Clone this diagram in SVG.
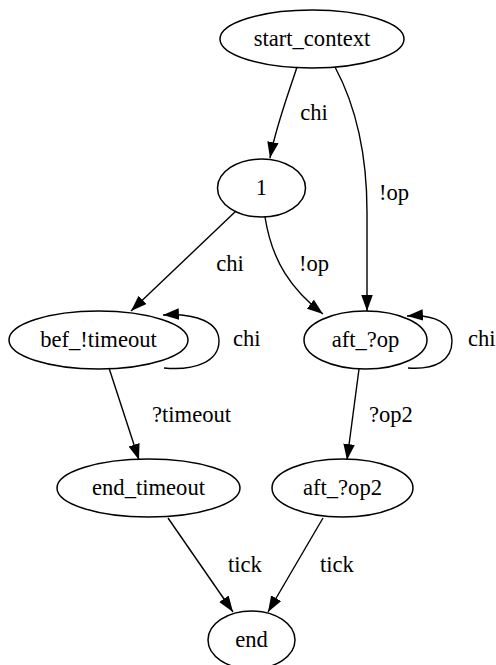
<svg xmlns="http://www.w3.org/2000/svg" width="496" height="665" viewBox="0 0 496 665" font-family="'Liberation Serif', 'Times New Roman', Times, serif">
<style>
text{font-family:'Liberation Serif','Times New Roman',Times,serif;font-size:22.6px;fill:#000}
.n ellipse{fill:none;stroke:#000;stroke-width:1.5}
.n text{text-anchor:middle}
.e path{fill:none;stroke:#000;stroke-width:1.4}
.c{text-anchor:middle}
</style>
<defs>
<marker id="ah" markerUnits="userSpaceOnUse" markerWidth="17" markerHeight="12" refX="16" refY="5.75" orient="auto">
<path d="M0,0 L16,5.75 L0,11.5 z" fill="#000"/>
</marker>
</defs>
<rect width="496" height="665" fill="#fff"/>
<g id="connectors" class="e">
<path d="M297,67 C289,92 276,126 270,158" marker-end="url(#ah)"/>
<path d="M335,67 C358,110 367,160 367,212 L367,311" marker-end="url(#ah)"/>
<path d="M236,211 L131,311" marker-end="url(#ah)"/>
<path d="M265,217 C272,262 292,290 323,314" marker-end="url(#ah)"/>
<path d="M164,368 C196,371 219,361 219,341 C219,323 198,313 163,315" marker-end="url(#ah)"/>
<path d="M408,368 C436,370 452,360 452,341 C452,324 436,314 407,316" marker-end="url(#ah)"/>
<path d="M109,368 L139,460" marker-end="url(#ah)"/>
<path d="M359,369 L347,460" marker-end="url(#ah)"/>
<path d="M168,518 L233,612" marker-end="url(#ah)"/>
<path d="M323,518 L268,612" marker-end="url(#ah)"/>
<text class="c" x="314" y="120">chi</text>
<text class="c" x="394" y="200">!op</text>
<text class="c" x="230" y="271">chi</text>
<text class="c" x="314" y="271">!op</text>
<text x="233" y="346">chi</text>
<text x="468" y="346">chi</text>
<text x="152" y="422">?timeout</text>
<text x="369" y="422">?op2</text>
<text x="228" y="572">tick</text>
<text x="320" y="572">tick</text>
</g>
<g id="start_context" class="n"><ellipse cx="312" cy="39" rx="92" ry="29"/><text x="312" y="46">start_context</text></g>
<g id="n1" class="n"><ellipse cx="261.5" cy="188" rx="44" ry="29"/><text x="261.5" y="195">1</text></g>
<g id="bef_timeout" class="n"><ellipse cx="98.5" cy="340" rx="89.5" ry="29"/><text x="98.5" y="347">bef_!timeout</text></g>
<g id="aft_op" class="n"><ellipse cx="365.5" cy="340" rx="61.5" ry="29"/><text x="365.5" y="347">aft_?op</text></g>
<g id="end_timeout" class="n"><ellipse cx="148.5" cy="488" rx="91.5" ry="29"/><text x="148.5" y="495">end_timeout</text></g>
<g id="aft_op2" class="n"><ellipse cx="342.5" cy="488" rx="70.5" ry="29"/><text x="342.5" y="495">aft_?op2</text></g>
<g id="end" class="n"><ellipse cx="251.5" cy="640" rx="43.5" ry="29"/><text x="251.5" y="647">end</text></g>
</svg>
